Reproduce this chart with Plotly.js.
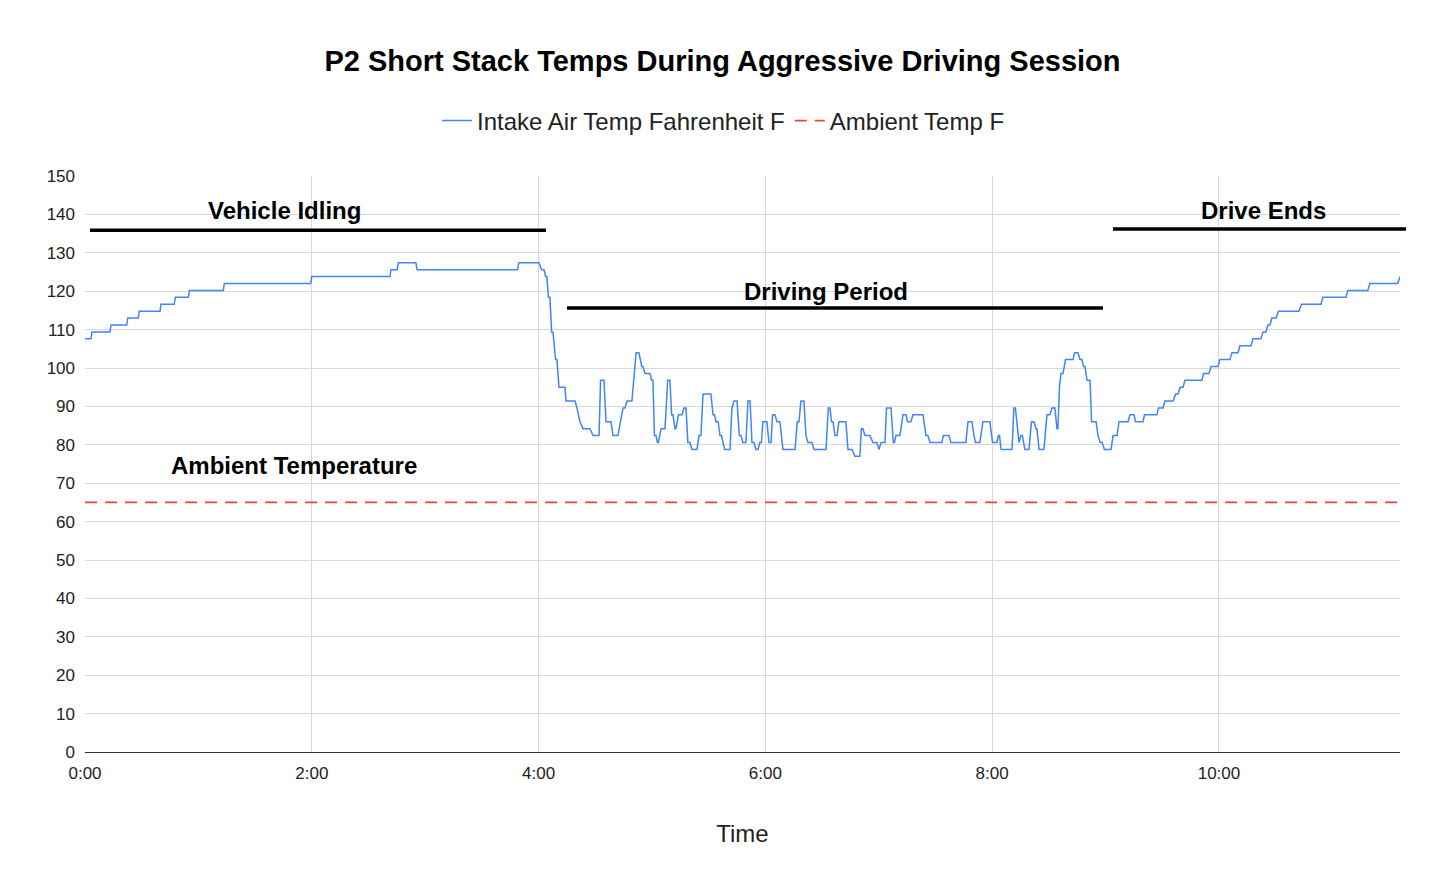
<!DOCTYPE html>
<html>
<head>
<meta charset="utf-8">
<script src="https://cdn.plot.ly/plotly-3.0.1.min.js"></script>
<style>html,body{margin:0;padding:0;background:#fff;}#chart{width:1445px;height:893px;}</style>
</head>
<body>
<div id="chart"></div>
<script>
// Time in seconds from start of session
const timeSec = [
0,3.2,3.7,13.2,13.8,22.1,22.6,28.2,28.7,39.7,40.2,47.2,47.8,54.7,55.2,73.2,73.7,119.4,120,161.4,
161.9,165.2,165.8,175.1,175.7,228.9,229.5,240.2,241.6,242.9,243.7,244.4,245.2,246,246.9,247.6,249,249.7,250.8,254,
254.5,259.3,260.3,261.9,263.5,267.2,268.8,272,272.8,274.6,275.7,278.3,279.4,282,283.3,284.7,285.7,286.8,289.4,291.6,
293.1,294.6,295.2,296.3,299,299.8,300.5,301.3,302.1,302.9,303.4,304.8,306.9,308.3,309.5,310.4,311.1,312.2,312.7,314,
315.9,316.9,318,319,320.1,321.2,323.8,324.9,325.9,327,331.2,332.3,333.1,333.9,335,336,336.8,338.4,341.3,342.3,
343.4,345,346.2,347.1,348.1,349.7,350.8,351.9,352.9,354,355,356.1,357.1,357.9,358.7,360.8,361.9,363,363.8,365.1,
366.1,367.7,369.3,375.7,376.9,377.8,378.8,380.4,381.5,382.5,384.7,385.7,392.1,393.3,394.2,395,395.8,396.8,397.9,398.9,
402.6,403.7,405.8,407.4,410,410.8,411.6,412.7,415.3,416.9,419,420.1,421.2,423.3,424.1,426.5,427.7,428.3,429.1,431.2,
432.8,434.4,435.2,437,438.1,443.4,445,446,447.1,453.4,454.2,457.1,458.2,466.1,467.2,469.3,470.4,471.2,473.5,475.1,
478.8,480.2,482.5,483.3,483.9,484.7,490.5,491.5,492.3,493.6,494.2,495.2,496,497.3,499.5,500.8,502.1,503.2,503.7,504.8,
507.4,509,510.6,511.6,513.2,514.3,514.8,515.6,516.4,517.5,518.8,522.8,523.6,525.4,526.5,527.5,528.3,529.1,530.2,531.8,
532.6,535,536,537.1,538.2,539.4,542.9,544,546.1,547.1,551.9,552.9,555.1,555.8,559.8,560.6,567.2,568,570.4,571.4,
575.7,577.1,578.4,579.4,581,582,591,591.8,594.7,595.8,599.5,600.5,605.8,606.9,610.1,611.1,617,618,622.2,623.3,
624.9,625.9,627,628,630.2,631.5,642.3,643.7,654,655,667.2,668.2,678.8,679.8,694.6,695.8
];
const intakeTempF = [
107.6,107.6,109.4,109.4,111.2,111.2,113,113,114.8,114.8,116.6,116.6,118.4,118.4,120.2,120.2,122,122,123.8,123.8,
125.6,125.6,127.4,127.4,125.6,125.6,127.4,127.4,125.6,125.6,123.8,123.8,118.4,118.4,109.4,109.4,102.2,102.2,95,95,
91.4,91.4,89.6,86,84.2,84.2,82.4,82.4,96.8,96.8,86,86,82.4,82.4,86,89.6,89.6,91.4,91.4,104,
104,100.4,100.4,98.6,98.6,96.8,96.8,82.4,82.4,80.6,80.6,84.2,84.2,96.8,96.8,87.8,87.8,84.2,84.2,87.8,
87.8,89.6,89.6,80.6,80.6,78.8,78.8,82.4,82.4,93.2,93.2,87.8,87.8,86,86,82.4,82.4,78.8,78.8,89.6,
91.4,91.4,82.4,82.4,80.6,80.6,91.4,91.4,80.6,80.6,78.8,78.8,80.6,80.6,86,86,80.6,80.6,87.8,87.8,
86,86,78.8,78.8,86,86,91.4,91.4,82.4,80.6,80.6,78.8,78.8,89.6,89.6,86,86,82.4,82.4,86,
86,78.8,78.8,77,77,84.2,84.2,82.4,82.4,80.6,80.6,78.8,80.6,80.6,89.6,89.6,80.6,80.6,82.4,82.4,
87.8,87.8,86,86,87.8,87.8,82.4,82.4,80.6,80.6,82.4,82.4,80.6,80.6,86,86,82.4,80.6,80.6,86,
86,80.6,80.6,82.4,82.4,78.8,78.8,89.6,89.6,84.2,80.6,82.4,82.4,78.8,78.8,86,86,84.2,84.2,78.8,
78.8,87.8,87.8,89.6,89.6,84.2,84.2,95,98.6,98.6,102.2,102.2,104,104,102.2,102.2,100.4,100.4,96.8,96.8,
86,86,82.4,80.6,80.6,78.8,78.8,82.4,82.4,86,86,87.8,87.8,86,86,87.8,87.8,89.6,89.6,91.4,
91.4,93.2,93.2,95,95,96.8,96.8,98.6,98.6,100.4,100.4,102.2,102.2,104,104,105.8,105.8,107.6,107.6,109.4,
109.4,111.2,111.2,113,113,114.8,114.8,116.6,116.6,118.4,118.4,120.2,120.2,122,122,123.8
];
const ambientTimeSec = [0, 695.8];
const ambientTempF = [65, 65];

const xTickVals = [0, 120, 240, 360, 480, 600];
const xTickText = ["0:00", "2:00", "4:00", "6:00", "8:00", "10:00"];
const yTickVals = [0,10,20,30,40,50,60,70,80,90,100,110,120,130,140,150];

const seriesNames = ["Intake Air Temp Fahrenheit F", "Ambient Temp F"];
const chartTitle = "P2 Short Stack Temps During Aggressive Driving Session";
const xTitle = "Time";
const noteLabels = ["Vehicle Idling", "Driving Period", "Drive Ends", "Ambient Temperature"];
const noteX = [105.8, 392, 623.8, 110.6];
const noteY = [140.9, 120, 140.9, 74.7];

const baseFont = "Liberation Sans, Arial, sans-serif";

const traces = [
  {
    x: timeSec, y: intakeTempF, name: seriesNames[0], type: "scatter", mode: "lines",
    line: {color: "#4285F4", width: 1.5}
  },
  {
    x: ambientTimeSec, y: ambientTempF, name: seriesNames[1], type: "scatter", mode: "lines",
    line: {color: "#EA4335", width: 1.8, dash: "12px,8px"}
  }
];

const annotations = noteLabels.map((t, i) => ({
  x: noteX[i], y: noteY[i], xref: "x", yref: "y", text: "<b>" + t + "</b>",
  showarrow: false, font: {family: baseFont, size: 24, color: "#000"},
  xanchor: "center", yanchor: "middle"
}));

const lineStyle = {color: "#000", width: 3.5};
const shapes = [
  {type: "line", xref: "paper", yref: "paper", x0: 0.0038, x1: 0.3506, y0: 0.906, y1: 0.906, line: lineStyle},
  {type: "line", xref: "paper", yref: "paper", x0: 0.3665, x1: 0.7741, y0: 0.7708, y1: 0.7708, line: lineStyle},
  {type: "line", xref: "paper", yref: "paper", x0: 0.7817, x1: 1.0046, y0: 0.908, y1: 0.908, line: lineStyle}
];

const layout = {
  width: 1445, height: 893,
  paper_bgcolor: "#fff", plot_bgcolor: "#fff",
  margin: {l: 85, r: 45, t: 176, b: 141},
  font: {family: baseFont, color: "#222"},
  title: {
    text: "<b>" + chartTitle + "</b>", font: {family: baseFont, size: 29, color: "#000"},
    x: 0.5, xanchor: "center", y: 1 - 61/893, yref: "container", yanchor: "middle"
  },
  showlegend: true,
  legend: {
    orientation: "h", x: 0.4856, xanchor: "center", y: 1 + 55/576, yanchor: "middle",
    font: {family: baseFont, size: 24, color: "#222"}, itemwidth: 30
  },
  xaxis: {
    range: [0, 695.8], tickvals: xTickVals, ticktext: xTickText,
    showgrid: true, gridcolor: "#d9d9d9", gridwidth: 1,
    showline: true, linecolor: "#333", linewidth: 1, zeroline: false,
    ticks: "", ticklabelstandoff: 6, tickfont: {family: baseFont, size: 17, color: "#222"},
    title: {text: xTitle, font: {family: baseFont, size: 24, color: "#222"}, standoff: 42}
  },
  yaxis: {
    range: [0, 150], tickvals: yTickVals,
    showgrid: true, gridcolor: "#d9d9d9", gridwidth: 1,
    zeroline: false, showline: false, ticks: "", ticklabelstandoff: 9,
    tickfont: {family: baseFont, size: 17, color: "#222"}
  },
  annotations: annotations,
  shapes: shapes
};

Plotly.newPlot("chart", traces, layout, {displayModeBar: false, staticPlot: true});
</script>
</body>
</html>
